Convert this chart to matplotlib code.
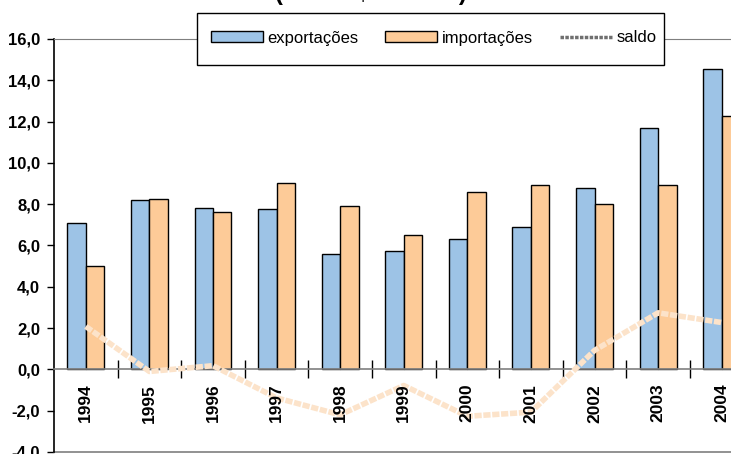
import numpy as np
import matplotlib.pyplot as plt
from matplotlib.patches import Patch, Rectangle
from matplotlib.lines import Line2D

plt.rcParams["font.family"] = ["Liberation Sans", "DejaVu Sans"]

# values (US$)
years = ["1994", "1995", "1996", "1997", "1998", "1999",
         "2000", "2001", "2002", "2003", "2004"]
exportacoes = [7.1, 8.2, 7.8, 7.75, 5.6, 5.75, 6.3, 6.9, 8.8, 11.7, 14.55]
importacoes = [5.0, 8.25, 7.6, 9.05, 7.9, 6.5, 8.6, 8.95, 8.0, 8.95, 12.25]
saldo = [2.08, -0.1, 0.18, -1.38, -2.2, -0.78, -2.27, -2.07, 0.92, 2.74, 2.27]
yticks = [-4, -2, 0, 2, 4, 6, 8, 10, 12, 14, 16]

blue = "#9DC3E6"
orange = "#FDCB98"
line_col = "#FCE3CA"

W, H = 731, 454
fig = plt.figure(figsize=(W / 100, H / 100), dpi=100)
ax = fig.add_axes([54 / W, 1 - 452 / H, 699.5 / W, (452 - 39) / H])

x = np.arange(len(years))
w = 0.29
ax.bar(x - w / 2, exportacoes, w, color=blue, edgecolor="black", linewidth=1.0, zorder=2)
ax.bar(x + w / 2, importacoes, w, color=orange, edgecolor="black", linewidth=1.0, zorder=2)

ln, = ax.plot(x, saldo, color=line_col, linewidth=4, zorder=3,
              solid_joinstyle="miter")
ln.set_dashes([1.3, 0.3])

ax.set_xlim(-0.5, len(years) - 0.5)
ax.set_ylim(-4, 16)
ax.set_yticks(yticks)
ax.set_yticklabels([f"{v:.1f}".replace(".", ",") for v in yticks],
                   fontsize=12, fontweight="bold")
ax.tick_params(axis="y", direction="out", length=5, width=1, pad=5)

# x-axis at zero with ticks between categories
ax.spines["bottom"].set_position(("data", 0))
ax.spines["bottom"].set_color("#7f7f7f")
ax.spines["bottom"].set_linewidth(1.2)
ax.set_xticks(np.arange(len(years) - 1) + 0.5)
ax.set_xticklabels([])
ax.tick_params(axis="x", direction="inout", length=13, width=1, color="black")

ax.spines["top"].set_color("#7f7f7f")
ax.spines["right"].set_visible(False)
ax.spines["left"].set_linewidth(1.2)
ax.axhline(-4, color="#7f7f7f", linewidth=1.2, clip_on=False)

for xi, yr in zip(x, years):
    ax.text(xi, -0.7, yr, rotation=90, ha="center", va="top",
            fontsize=12.5, fontweight="bold")

# title is cut off by the top edge, as in the source image
fig.text(0.508, 1.0, "(em US$ bilhões)", ha="center", va="baseline",
         fontsize=17, fontweight="bold")

# legend box (Excel style)
fig.patches.append(Rectangle((197 / W, 1 - 65 / H), 467 / W, 52 / H,
                             transform=fig.transFigure, facecolor="white",
                             edgecolor="black", linewidth=1.0, zorder=4))

handles = [
    Patch(facecolor=blue, edgecolor="black", linewidth=1.0),
    Patch(facecolor=orange, edgecolor="black", linewidth=1.0),
    Line2D([], [], color="#6f6f6f", linewidth=2.5, linestyle=(0, (1, 0.4))),
]
leg = fig.legend(handles, ["exportações", "importações", "saldo"],
                 loc="center left", bbox_to_anchor=(211 / W, 1 - 38 / H),
                 ncol=3, frameon=False, fontsize=12,
                 handlelength=3.1, handleheight=0.6, handletextpad=0.3,
                 columnspacing=1.6, borderpad=0, borderaxespad=0)
leg.set_zorder(5)

fig.savefig("out.png", dpi=100)
